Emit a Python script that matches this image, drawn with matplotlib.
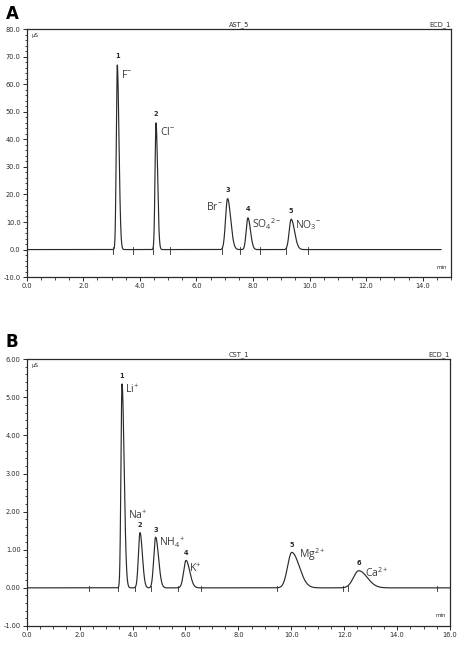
import matplotlib as mpl
mpl.use('Agg')
import matplotlib.pyplot as plt
from matplotlib.ticker import MultipleLocator, FormatStrFormatter
import numpy as np

# panel A: anions (retention time min, height uS, left/right width)
a_times = [3.2, 4.57, 7.1, 7.82, 9.35]
a_heights = [67.0, 46.0, 18.5, 11.5, 11.0]
a_wl = [0.035, 0.035, 0.07, 0.06, 0.07]
a_wr = [0.06, 0.055, 0.11, 0.09, 0.12]
a_nums = ['1', '2', '3', '4', '5']
a_ions = [r'F$^{-}$', r'Cl$^{-}$', r'Br$^{-}$', r'SO$_4$$^{2-}$', r'NO$_3$$^{-}$']
a_marks = [3.05, 3.75, 4.45, 5.05, 6.9, 7.55, 8.25, 9.15, 9.95]

# panel B: cations
b_times = [3.6, 4.28, 4.87, 6.02, 10.02, 12.55]
b_heights = [5.35, 1.45, 1.33, 0.72, 0.93, 0.45]
b_wl = [0.04, 0.06, 0.07, 0.09, 0.16, 0.2]
b_wr = [0.08, 0.09, 0.11, 0.14, 0.28, 0.32]
b_nums = ['1', '2', '3', '4', '5', '6']
b_ions = [r'Li$^{+}$', r'Na$^{+}$', r'NH$_4$$^{+}$', r'K$^{+}$', r'Mg$^{2+}$', r'Ca$^{2+}$']
b_marks = [2.35, 3.45, 4.1, 4.7, 5.7, 6.6, 9.45, 11.95, 12.15, 15.5]

plt.rcParams['font.family'] = ['DejaVu Sans']
plt.rcParams['mathtext.fontset'] = 'custom'
plt.rcParams['mathtext.rm'] = 'Open Sans'
plt.rcParams['mathtext.it'] = 'Open Sans'
plt.rcParams['mathtext.bf'] = 'Open Sans:bold'
col = '#2a2a2a'
ioncol = '#3a3a3a'

def trace(x, times, heights, wl, wr):
    y = np.zeros_like(x)
    for t, h, l, r in zip(times, heights, wl, wr):
        s = np.where(x < t, l, r)
        y += h * np.exp(-0.5 * ((x - t) / s) ** 2)
    return y

fig = plt.figure(figsize=(4.62, 6.46), dpi=100)
axA = fig.add_axes([0.058, 0.571, 0.918, 0.384])
axB = fig.add_axes([0.058, 0.031, 0.916, 0.413])

def style(ax, xmax, ymin, ymax, ymaj, ymin_step, yfmt):
    ax.set_xlim(0, xmax)
    ax.set_ylim(ymin, ymax)
    ax.xaxis.set_major_locator(MultipleLocator(2.0))
    ax.xaxis.set_minor_locator(MultipleLocator(0.5))
    ax.yaxis.set_major_locator(MultipleLocator(ymaj))
    ax.yaxis.set_minor_locator(MultipleLocator(ymin_step))
    ax.xaxis.set_major_formatter(FormatStrFormatter('%.1f'))
    ax.yaxis.set_major_formatter(FormatStrFormatter(yfmt))
    ax.tick_params(labelsize=4.8, length=3, width=0.7, pad=1.5, colors=col)
    ax.tick_params(which='minor', length=1.8, width=0.6, colors=col)
    for sp in ax.spines.values():
        sp.set_color(col)
        sp.set_linewidth(0.9)

def ion(ax, x, y, s, ha):
    ax.text(x, y, s, fontsize=7.5, ha=ha, va='center', color=ioncol, family='Open Sans')

# ---- panel A
xa = np.linspace(0, 14.65, 4000)
axA.plot(xa, trace(xa, a_times, a_heights, a_wl, a_wr), color=col, lw=0.85)
style(axA, 15.0, -10.0, 80.0, 10.0, 2.0, '%.1f')
for m in a_marks:
    axA.plot([m, m], [-1.5, 1.0], color=col, lw=0.6)
for t, h, n in zip(a_times, a_heights, a_nums):
    axA.text(t, h + 2.0, n, fontsize=4.8, fontweight='bold', ha='center', va='bottom', color=col)
a_lab = [(3.33, 63.5, 'left'), (4.7, 42.5, 'left'), (6.95, 15.5, 'right'),
         (7.97, 9.2, 'left'), (9.5, 8.8, 'left')]
for (lx, ly, ha), s in zip(a_lab, a_ions):
    ion(axA, lx, ly, s, ha)
axA.text(0.012, 0.985, 'µS', transform=axA.transAxes, fontsize=4, va='top', color=col)
axA.text(0.99, 0.03, 'min', transform=axA.transAxes, fontsize=4, ha='right', va='bottom', color=col)
axA.text(0.5, 1.005, 'AST_5', transform=axA.transAxes, fontsize=4.8, ha='center', va='bottom', color=col)
axA.text(1.0, 1.005, 'ECD_1', transform=axA.transAxes, fontsize=4.8, ha='right', va='bottom', color=col)
fig.text(0.012, 0.978, 'A', fontsize=12, fontweight='bold', va='center')

# ---- panel B
xb = np.linspace(0, 16.0, 4000)
axB.plot(xb, trace(xb, b_times, b_heights, b_wl, b_wr), color=col, lw=0.85)
style(axB, 16.0, -1.0, 6.0, 1.0, 0.2, '%.2f')
for m in b_marks:
    axB.plot([m, m], [-0.08, 0.06], color=col, lw=0.6)
for t, h, n in zip(b_times, b_heights, b_nums):
    axB.text(t, h + 0.12, n, fontsize=4.8, fontweight='bold', ha='center', va='bottom', color=col)
b_lab = [(3.72, 5.2, 'left'), (4.2, 1.88, 'center'), (4.98, 1.18, 'left'),
         (6.15, 0.5, 'left'), (10.3, 0.88, 'left'), (12.8, 0.4, 'left')]
for (lx, ly, ha), s in zip(b_lab, b_ions):
    ion(axB, lx, ly, s, ha)
axB.text(0.012, 0.985, 'µS', transform=axB.transAxes, fontsize=4, va='top', color=col)
axB.text(0.99, 0.03, 'min', transform=axB.transAxes, fontsize=4, ha='right', va='bottom', color=col)
axB.text(0.5, 1.005, 'CST_1', transform=axB.transAxes, fontsize=4.8, ha='center', va='bottom', color=col)
axB.text(1.0, 1.005, 'ECD_1', transform=axB.transAxes, fontsize=4.8, ha='right', va='bottom', color=col)
fig.text(0.012, 0.470, 'B', fontsize=12, fontweight='bold', va='center')

fig.savefig('out.png', dpi=100)
